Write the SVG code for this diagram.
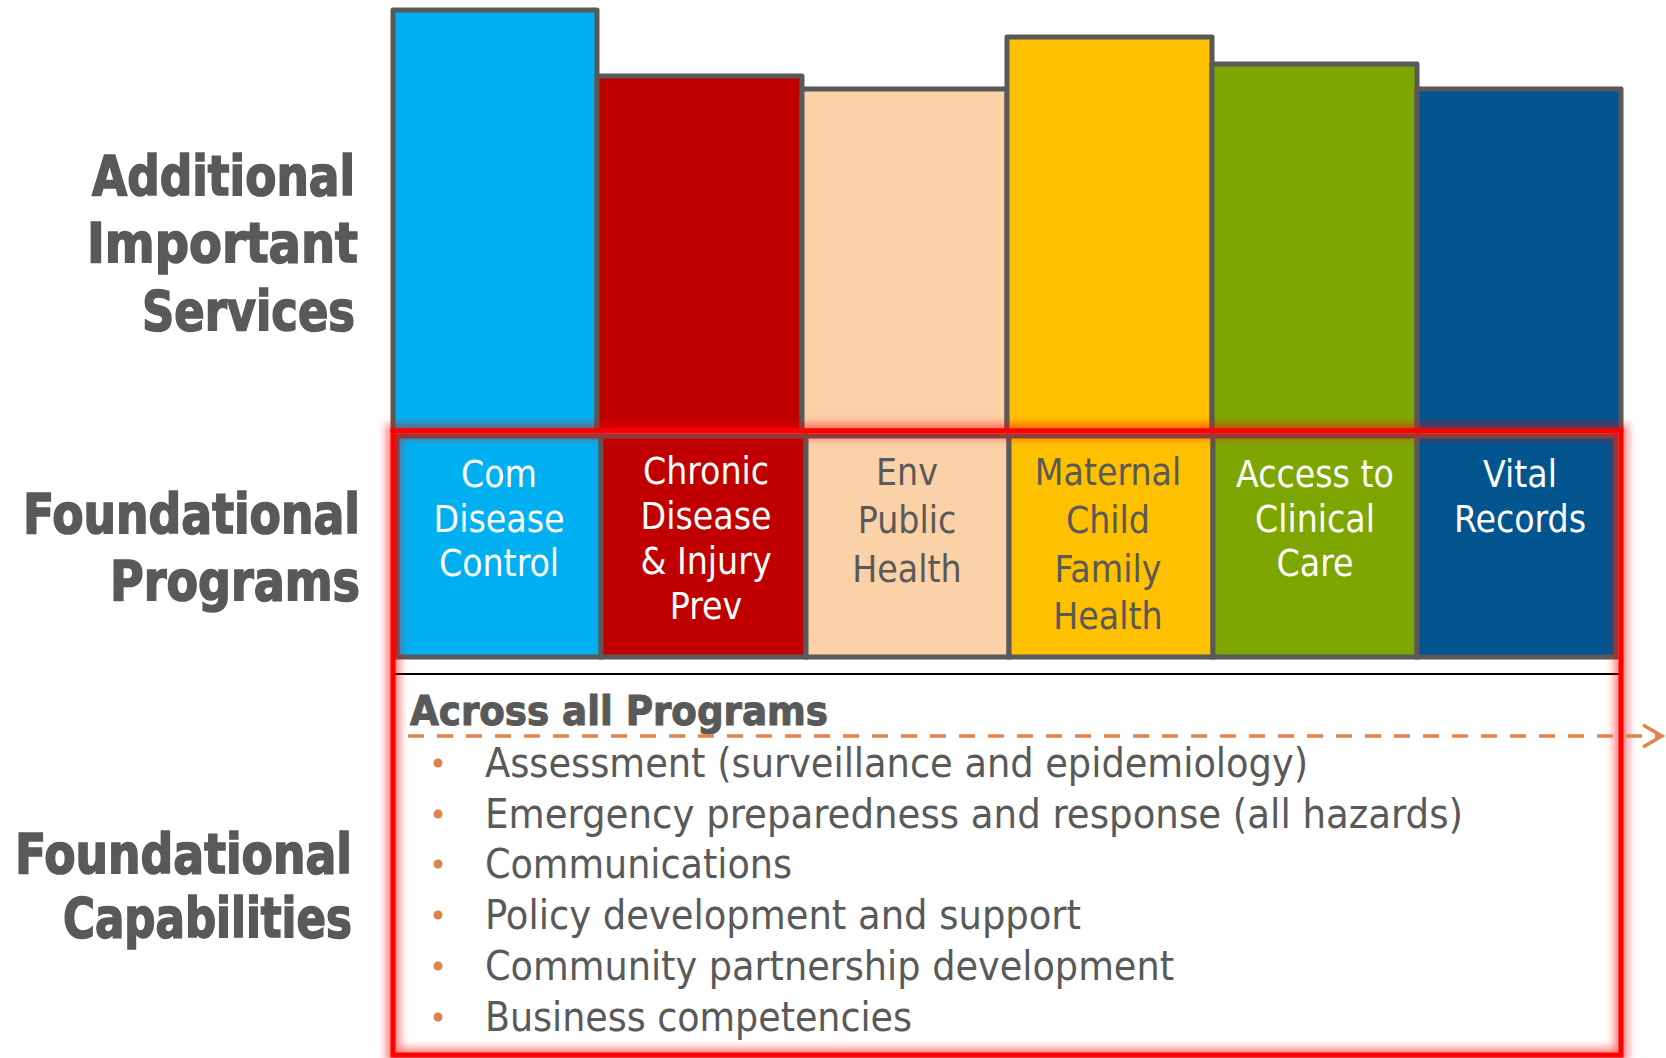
<svg xmlns="http://www.w3.org/2000/svg" width="1666" height="1058" viewBox="0 0 1666 1058">
<defs>
<style>
.f{font-family:'DejaVu Sans Condensed','DejaVu Sans',sans-serif;font-stretch:condensed}
.bar{stroke:#595959;stroke-width:5;stroke-linejoin:round}
.prog{stroke:#595959;stroke-width:5}
.lbl{font-weight:bold;fill:#595959;stroke:#595959;stroke-width:1.6;font-size:56px;text-anchor:end}
.pt{font-size:37px;text-anchor:middle}
.w{fill:#ffffff}
.g{fill:#595959}
.bt{font-size:40px;fill:#595959}
.dot{fill:#E0824A}
</style>
<filter id="glow" x="-5%" y="-5%" width="110%" height="110%"><feGaussianBlur stdDeviation="4"/></filter>
<marker id="arr" viewBox="0 0 24 26" refX="21" refY="13" markerWidth="24" markerHeight="26" markerUnits="userSpaceOnUse" orient="auto">
<path d="M2,2 L21,13 L2,24" fill="none" stroke="#E0824A" stroke-width="3.5"/>
</marker>
</defs>

<g id="labels" class="f">
<text class="lbl" x="355" y="195" textLength="263" lengthAdjust="spacingAndGlyphs">Additional</text>
<text class="lbl" x="358" y="262" textLength="271" lengthAdjust="spacingAndGlyphs">Important</text>
<text class="lbl" x="355" y="330" textLength="213" lengthAdjust="spacingAndGlyphs">Services</text>
<text class="lbl" x="360" y="533" textLength="337" lengthAdjust="spacingAndGlyphs">Foundational</text>
<text class="lbl" x="360" y="600" textLength="250" lengthAdjust="spacingAndGlyphs">Programs</text>
<text class="lbl" x="352" y="873" textLength="337" lengthAdjust="spacingAndGlyphs">Foundational</text>
<text class="lbl" x="352" y="937" textLength="289" lengthAdjust="spacingAndGlyphs">Capabilities</text>
</g>

<g id="services">
<rect class="bar" x="393" y="10" width="204" height="421" fill="#00B0F0"/>
<rect class="bar" x="597" y="76" width="205" height="355" fill="#C00000"/>
<rect class="bar" x="802" y="89" width="205" height="342" fill="#FBD1A7"/>
<rect class="bar" x="1007" y="37" width="205" height="394" fill="#FFC000"/>
<rect class="bar" x="1212" y="64" width="205" height="367" fill="#7DA700"/>
<rect class="bar" x="1417" y="89" width="204" height="342" fill="#02558F"/>
</g>

<rect id="frame-bg" x="393" y="431" width="1228" height="624" fill="#ffffff"/>

<g id="prog-com">
<rect class="prog" x="397" y="436" width="204" height="221" fill="#00B0F0"/>
<text class="f pt w"><tspan x="499" y="487">Com</tspan><tspan x="499" y="532">Disease</tspan><tspan x="499" y="576">Control</tspan></text>
</g>
<g id="prog-chronic">
<rect class="prog" x="601" y="436" width="205" height="221" fill="#C00000"/>
<text class="f pt w"><tspan x="706" y="484">Chronic</tspan><tspan x="706" y="529">Disease</tspan><tspan x="706" y="574">&amp; Injury</tspan><tspan x="706" y="619">Prev</tspan></text>
</g>
<g id="prog-env">
<rect class="prog" x="806" y="436" width="203" height="221" fill="#FBD1A7"/>
<text class="f pt g"><tspan x="907" y="485">Env</tspan><tspan x="907" y="533">Public</tspan><tspan x="907" y="582">Health</tspan></text>
</g>
<g id="prog-mcfh">
<rect class="prog" x="1009" y="436" width="204" height="221" fill="#FFC000"/>
<text class="f pt g"><tspan x="1108" y="485">Maternal</tspan><tspan x="1108" y="533">Child</tspan><tspan x="1108" y="582">Family</tspan><tspan x="1108" y="629">Health</tspan></text>
</g>
<g id="prog-access">
<rect class="prog" x="1213" y="436" width="204" height="221" fill="#7DA700"/>
<text class="f pt w"><tspan x="1315" y="487">Access to</tspan><tspan x="1315" y="532">Clinical</tspan><tspan x="1315" y="576">Care</tspan></text>
</g>
<g id="prog-vital">
<rect class="prog" x="1417" y="436" width="199" height="221" fill="#02558F"/>
<text class="f pt w"><tspan x="1520" y="487">Vital</tspan><tspan x="1520" y="532">Records</tspan></text>
</g>

<line x1="395" y1="674" x2="1620" y2="674" stroke="#000" stroke-width="2"/>

<g id="capabilities" class="f">
<text x="410" y="725" font-weight="bold" font-size="40" fill="#595959" stroke="#595959" stroke-width="1" textLength="418" lengthAdjust="spacingAndGlyphs">Across all Programs</text>
<circle class="dot" cx="438" cy="763" r="4.5"/>
<text class="bt" x="485" y="777" textLength="823" lengthAdjust="spacingAndGlyphs">Assessment (surveillance and epidemiology)</text>
<circle class="dot" cx="438" cy="814" r="4.5"/>
<text class="bt" x="485" y="828" textLength="978" lengthAdjust="spacingAndGlyphs">Emergency preparedness and response (all hazards)</text>
<circle class="dot" cx="438" cy="864" r="4.5"/>
<text class="bt" x="485" y="878" textLength="307" lengthAdjust="spacingAndGlyphs">Communications</text>
<circle class="dot" cx="438" cy="915" r="4.5"/>
<text class="bt" x="485" y="929" textLength="596" lengthAdjust="spacingAndGlyphs">Policy development and support</text>
<circle class="dot" cx="438" cy="966" r="4.5"/>
<text class="bt" x="485" y="980" textLength="689" lengthAdjust="spacingAndGlyphs">Community partnership development</text>
<circle class="dot" cx="438" cy="1017" r="4.5"/>
<text class="bt" x="485" y="1031" textLength="427" lengthAdjust="spacingAndGlyphs">Business competencies</text>
</g>

<g id="frame">
<rect x="393" y="431" width="1228" height="624" fill="none" stroke="#FF0000" stroke-width="14" opacity="0.5" filter="url(#glow)"/>
<rect x="393" y="431" width="1228" height="624" fill="none" stroke="#FF0000" stroke-width="5"/>
</g>

<g id="connectors">
<line x1="408" y1="736" x2="1662" y2="736" stroke="#E0824A" stroke-width="3.5" stroke-dasharray="16 13" marker-end="url(#arr)"/>
</g>
</svg>
